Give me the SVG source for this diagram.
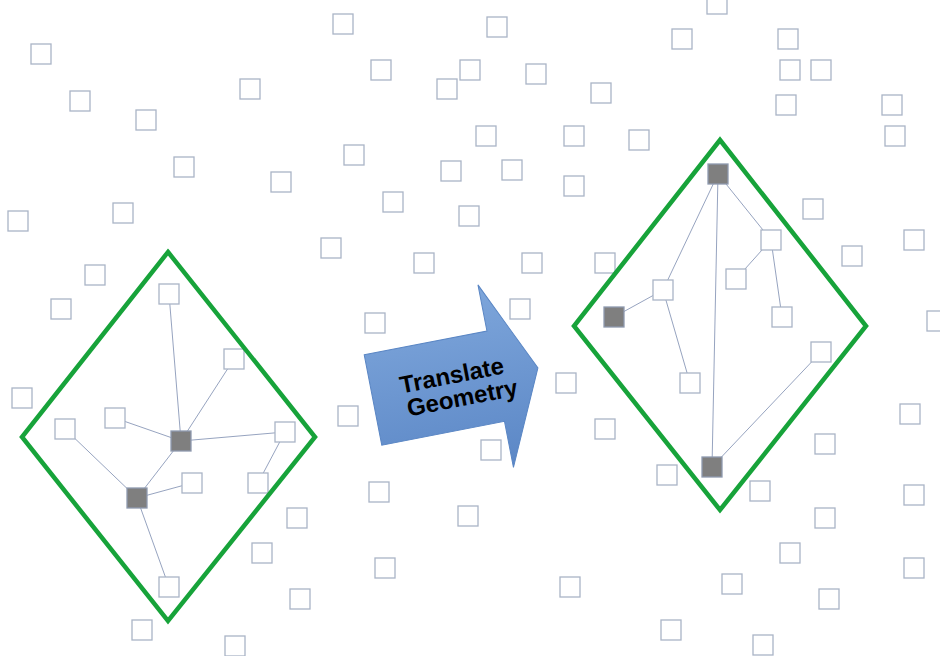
<svg xmlns="http://www.w3.org/2000/svg" xmlns:xlink="http://www.w3.org/1999/xlink" width="940" height="656" viewBox="0 0 940 656">
<style>
.sq{fill:#fff;stroke:#aab4c6;stroke-width:1.3}
.dk{fill:#7f7f7f;stroke:#8f9ab0;stroke-width:1.3}
.cn{stroke:#8a99b8;stroke-width:0.9;fill:none}
.dm{fill:none;stroke:#17a33a;stroke-width:4.5;stroke-linejoin:miter}
.lbl{font-family:"Liberation Sans",Arial,sans-serif;font-weight:bold;font-size:24px;fill:#000;text-anchor:middle}
</style>
<defs>
<linearGradient id="ag" x1="0" y1="0" x2="0" y2="1">
<stop offset="0" stop-color="#7ea6db"/>
<stop offset="1" stop-color="#5b87c6"/>
</linearGradient>
</defs>
<rect width="940" height="656" fill="#fff"/>
<g id="connectors">
<line class="cn" x1="169" y1="294" x2="181" y2="441"/>
<line class="cn" x1="234" y1="359" x2="181" y2="441"/>
<line class="cn" x1="115" y1="418" x2="181" y2="441"/>
<line class="cn" x1="181" y1="441" x2="285" y2="432"/>
<line class="cn" x1="285" y1="432" x2="258" y2="483"/>
<line class="cn" x1="65" y1="429" x2="137" y2="498"/>
<line class="cn" x1="181" y1="441" x2="137" y2="498"/>
<line class="cn" x1="137" y1="498" x2="192" y2="483"/>
<line class="cn" x1="137" y1="498" x2="169" y2="587"/>
<line class="cn" x1="718" y1="174" x2="771" y2="240"/>
<line class="cn" x1="771" y1="240" x2="736" y2="279"/>
<line class="cn" x1="771" y1="240" x2="782" y2="317"/>
<line class="cn" x1="718" y1="174" x2="712" y2="467"/>
<line class="cn" x1="718" y1="174" x2="663" y2="290"/>
<line class="cn" x1="663" y1="290" x2="614" y2="317"/>
<line class="cn" x1="663" y1="290" x2="690" y2="383"/>
<line class="cn" x1="821" y1="352" x2="712" y2="467"/>
</g>
<g id="background-nodes">
<g id="s1"><rect class="sq" x="31" y="44" width="20" height="20"/></g>
<g id="s2"><rect class="sq" x="70" y="91" width="20" height="20"/></g>
<g id="s3"><rect class="sq" x="136" y="110" width="20" height="20"/></g>
<g id="s4"><rect class="sq" x="174" y="157" width="20" height="20"/></g>
<g id="s5"><rect class="sq" x="113" y="203" width="20" height="20"/></g>
<g id="s6"><rect class="sq" x="8" y="211" width="20" height="20"/></g>
<g id="s7"><rect class="sq" x="85" y="265" width="20" height="20"/></g>
<g id="s8"><rect class="sq" x="51" y="299" width="20" height="20"/></g>
<g id="s9"><rect class="sq" x="12" y="388" width="20" height="20"/></g>
<g id="s10"><rect class="sq" x="333" y="14" width="20" height="20"/></g>
<g id="s11"><rect class="sq" x="371" y="60" width="20" height="20"/></g>
<g id="s12"><rect class="sq" x="460" y="60" width="20" height="20"/></g>
<g id="s13"><rect class="sq" x="240" y="79" width="20" height="20"/></g>
<g id="s14"><rect class="sq" x="437" y="79" width="20" height="20"/></g>
<g id="s15"><rect class="sq" x="344" y="145" width="20" height="20"/></g>
<g id="s16"><rect class="sq" x="271" y="172" width="20" height="20"/></g>
<g id="s17"><rect class="sq" x="441" y="161" width="20" height="20"/></g>
<g id="s18"><rect class="sq" x="383" y="192" width="20" height="20"/></g>
<g id="s19"><rect class="sq" x="459" y="206" width="20" height="20"/></g>
<g id="s20"><rect class="sq" x="487" y="17" width="20" height="20"/></g>
<g id="s21"><rect class="sq" x="672" y="29" width="20" height="20"/></g>
<g id="s22"><rect class="sq" x="526" y="64" width="20" height="20"/></g>
<g id="s23"><rect class="sq" x="591" y="83" width="20" height="20"/></g>
<g id="s24"><rect class="sq" x="476" y="126" width="20" height="20"/></g>
<g id="s25"><rect class="sq" x="564" y="126" width="20" height="20"/></g>
<g id="s26"><rect class="sq" x="629" y="130" width="20" height="20"/></g>
<g id="s27"><rect class="sq" x="502" y="160" width="20" height="20"/></g>
<g id="s28"><rect class="sq" x="564" y="176" width="20" height="20"/></g>
<g id="s29"><rect class="sq" x="707" y="-6" width="20" height="20"/></g>
<g id="s30"><rect class="sq" x="778" y="29" width="20" height="20"/></g>
<g id="s31"><rect class="sq" x="780" y="60" width="20" height="20"/></g>
<g id="s32"><rect class="sq" x="811" y="60" width="20" height="20"/></g>
<g id="s33"><rect class="sq" x="776" y="95" width="20" height="20"/></g>
<g id="s34"><rect class="sq" x="882" y="95" width="20" height="20"/></g>
<g id="s35"><rect class="sq" x="885" y="126" width="20" height="20"/></g>
<g id="s36"><rect class="sq" x="803" y="199" width="20" height="20"/></g>
<g id="s37"><rect class="sq" x="321" y="238" width="20" height="20"/></g>
<g id="s38"><rect class="sq" x="414" y="253" width="20" height="20"/></g>
<g id="s39"><rect class="sq" x="365" y="313" width="20" height="20"/></g>
<g id="s40"><rect class="sq" x="338" y="406" width="20" height="20"/></g>
<g id="s41"><rect class="sq" x="522" y="253" width="20" height="20"/></g>
<g id="s42"><rect class="sq" x="595" y="253" width="20" height="20"/></g>
<g id="s43"><rect class="sq" x="510" y="299" width="20" height="20"/></g>
<g id="s44"><rect class="sq" x="556" y="373" width="20" height="20"/></g>
<g id="s45"><rect class="sq" x="595" y="419" width="20" height="20"/></g>
<g id="s46"><rect class="sq" x="481" y="440" width="20" height="20"/></g>
<g id="s47"><rect class="sq" x="842" y="246" width="20" height="20"/></g>
<g id="s48"><rect class="sq" x="904" y="230" width="20" height="20"/></g>
<g id="s49"><rect class="sq" x="927" y="311" width="20" height="20"/></g>
<g id="s50"><rect class="sq" x="900" y="404" width="20" height="20"/></g>
<g id="s51"><rect class="sq" x="815" y="434" width="20" height="20"/></g>
<g id="s52"><rect class="sq" x="132" y="620" width="20" height="20"/></g>
<g id="s53"><rect class="sq" x="225" y="636" width="20" height="20"/></g>
<g id="s54"><rect class="sq" x="369" y="482" width="20" height="20"/></g>
<g id="s55"><rect class="sq" x="458" y="506" width="20" height="20"/></g>
<g id="s56"><rect class="sq" x="287" y="508" width="20" height="20"/></g>
<g id="s57"><rect class="sq" x="252" y="543" width="20" height="20"/></g>
<g id="s58"><rect class="sq" x="375" y="558" width="20" height="20"/></g>
<g id="s59"><rect class="sq" x="290" y="589" width="20" height="20"/></g>
<g id="s60"><rect class="sq" x="560" y="577" width="20" height="20"/></g>
<g id="s61"><rect class="sq" x="661" y="620" width="20" height="20"/></g>
<g id="s62"><rect class="sq" x="657" y="465" width="20" height="20"/></g>
<g id="s63"><rect class="sq" x="750" y="481" width="20" height="20"/></g>
<g id="s64"><rect class="sq" x="904" y="485" width="20" height="20"/></g>
<g id="s65"><rect class="sq" x="815" y="508" width="20" height="20"/></g>
<g id="s66"><rect class="sq" x="780" y="543" width="20" height="20"/></g>
<g id="s67"><rect class="sq" x="904" y="558" width="20" height="20"/></g>
<g id="s68"><rect class="sq" x="722" y="574" width="20" height="20"/></g>
<g id="s69"><rect class="sq" x="819" y="589" width="20" height="20"/></g>
<g id="s70"><rect class="sq" x="753" y="635" width="20" height="20"/></g>
</g>
<g id="left-graph">
<g id="a1"><rect class="sq" x="159" y="284" width="20" height="20"/></g>
<g id="a2"><rect class="sq" x="224" y="349" width="20" height="20"/></g>
<g id="a3"><rect class="sq" x="105" y="408" width="20" height="20"/></g>
<g id="a4"><rect class="sq" x="55" y="419" width="20" height="20"/></g>
<g id="ad1"><rect class="dk" x="171" y="431" width="20" height="20"/></g>
<g id="a5"><rect class="sq" x="275" y="422" width="20" height="20"/></g>
<g id="a6"><rect class="sq" x="248" y="473" width="20" height="20"/></g>
<g id="ad2"><rect class="dk" x="127" y="488" width="20" height="20"/></g>
<g id="a7"><rect class="sq" x="182" y="473" width="20" height="20"/></g>
<g id="a8"><rect class="sq" x="159" y="577" width="20" height="20"/></g>
</g>
<g id="right-graph">
<g id="bd1"><rect class="dk" x="708" y="164" width="20" height="20"/></g>
<g id="b1"><rect class="sq" x="761" y="230" width="20" height="20"/></g>
<g id="b2"><rect class="sq" x="726" y="269" width="20" height="20"/></g>
<g id="b3"><rect class="sq" x="772" y="307" width="20" height="20"/></g>
<g id="b4"><rect class="sq" x="653" y="280" width="20" height="20"/></g>
<g id="bd2"><rect class="dk" x="604" y="307" width="20" height="20"/></g>
<g id="b5"><rect class="sq" x="680" y="373" width="20" height="20"/></g>
<g id="b6"><rect class="sq" x="811" y="342" width="20" height="20"/></g>
<g id="bd3"><rect class="dk" x="702" y="457" width="20" height="20"/></g>
</g>
<g id="left-region"><polygon class="dm" points="168,252 315,437 168,621 22,437"/></g>
<g id="right-region"><polygon class="dm" points="720,140 866,326 720,510 574,326"/></g>
<g id="translate-arrow" transform="translate(373,400) rotate(-11)">
<polygon points="0,-46 125,-46 125,-93 168,0 125,93 125,46 0,46" fill="url(#ag)" stroke="#5a86c4" stroke-width="1"/>
<text class="lbl" x="82" y="-1">Translate</text>
<text class="lbl" x="88" y="23">Geometry</text>
</g>
</svg>
